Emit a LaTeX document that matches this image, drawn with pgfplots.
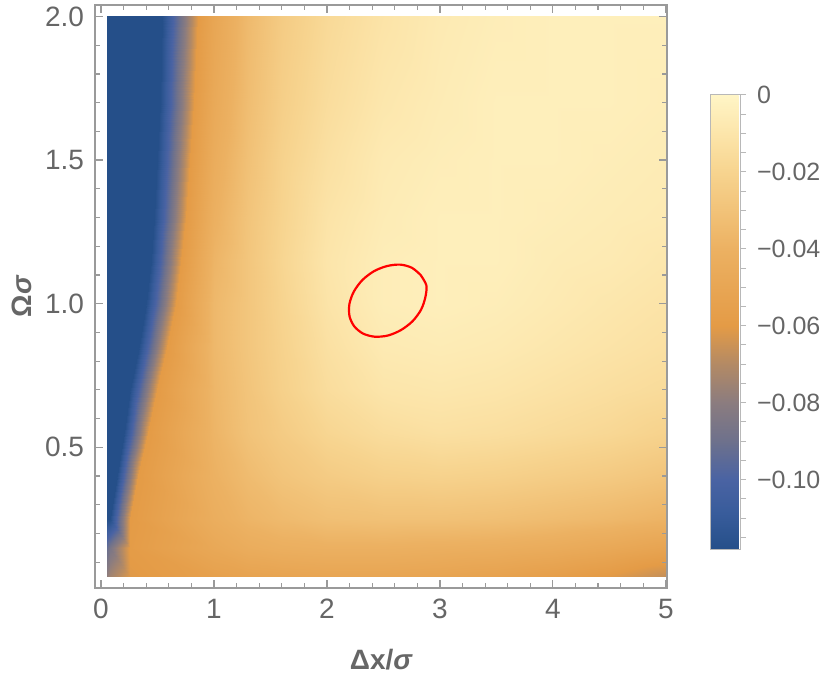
\documentclass[border=0pt]{standalone}
\usepackage{fontspec}
\setmainfont{Liberation Sans}
\usepackage{pgfplots}
\pgfplotsset{compat=1.18}

\definecolor{framegray}{HTML}{9A9A9A}
\definecolor{labelgray}{HTML}{666666}

\begin{document}
\begin{tikzpicture}
\path[use as bounding box] (-47.5pt,-47.5pt) rectangle (367.5pt,294pt);
\begin{axis}[
    at={(0,0)}, anchor=south west,
    scale only axis,
    width=286pt, height=291.5pt,
    xmin=-0.053, xmax=5.01,
    ymin=0.01, ymax=2.04,
    axis on top,
    axis line style={framegray, line width=0.6pt},
    tick style={framegray, line width=0.6pt},
    tick align=inside,
    major tick length=4pt,
    minor tick length=2.5pt,
    xtick={0,1,2,3,4,5},
    xticklabels={0,1,2,3,4,5},
    minor xtick={0.2,0.4,0.6,0.8,1.2,1.4,1.6,1.8,2.2,2.4,2.6,2.8,3.2,3.4,3.6,3.8,4.2,4.4,4.6,4.8},
    ytick={0.5,1,1.5,2},
    yticklabels={0.5,1.0,1.5,2.0},
    minor ytick={0.1,0.2,0.3,0.4,0.6,0.7,0.8,0.9,1.1,1.2,1.3,1.4,1.6,1.7,1.8,1.9},
    /pgf/number format/assume math mode=true,
    tick label style={font=\fontsize{14}{16}\selectfont, text=labelgray},
    xticklabel style={yshift=-2pt},
    yticklabel style={xshift=-2pt},
    xlabel={\bfseries Δx/{\itshape σ}},
    ylabel={\bfseries Ω{\itshape σ}},
    label style={font=\fontsize{14}{16}\selectfont, text=labelgray},
    xlabel style={at={(axis description cs:0.5,-0.1235)}, anchor=center},
    ylabel style={at={(axis description cs:-0.128,0.5)}, anchor=center},
    colormap={m10}{rgb255(0)=(37,79,137) rgb255(80)=(56,92,155) rgb255(155)=(74,99,163)
        rgb255(240)=(110,113,140) rgb255(324)=(139,124,127) rgb255(410)=(180,138,100)
        rgb255(493)=(228,155,70) rgb255(662)=(236,177,98) rgb255(831)=(247,212,143)
        rgb255(915)=(252,229,170) rgb255(1000)=(255,245,198)},
    point meta min=-0.1183, point meta max=0,
    colorbar,
    colorbar style={
        at={(parent axis.north east)}, anchor=north west,
        xshift=13pt, yshift=-45pt,
        scale only axis,
        width=15pt, height=227.5pt,
        axis line style={draw=framegray!70, line width=0.5pt},
        ytick={-0.1,-0.08,-0.06,-0.04,-0.02,0},
        yticklabels={−0.10,−0.08,−0.06,−0.04,−0.02,0},
        minor ytick={-0.115,-0.11,-0.105,-0.095,-0.09,-0.085,-0.075,-0.07,-0.065,-0.055,-0.05,-0.045,-0.035,-0.03,-0.025,-0.015,-0.01,-0.005},
        ytick pos=right,
        yticklabel pos=right,
        tick align=outside,
        major tick length=3pt,
        minor tick length=3pt,
        tick style={framegray!70, line width=0.5pt},
        yticklabel style={font=\fontsize{12.5}{15}\selectfont, text=labelgray, xshift=2pt},
    },
]
% density values, rows of constant y; 2nd/3rd columns follow the blue edge
\addplot[surf, shader=interp, mesh/cols=13, mesh/ordering=x varies, point meta=explicit]
table[x=x, y=y, meta=v] {
x y v
0.05 0.05 -0.078
0.08 0.05 -0.074
0.26 0.05 -0.061
1.0 0.05 -0.055
1.3 0.05 -0.053
1.6 0.05 -0.052
2.0 0.05 -0.051
2.5 0.05 -0.051
3.0 0.05 -0.052
3.5 0.05 -0.054
4.0 0.05 -0.057
4.5 0.05 -0.061
5.0 0.05 -0.067
0.05 0.15 -0.092
0.08 0.15 -0.086
0.26 0.15 -0.059
1.0 0.15 -0.048
1.3 0.15 -0.044
1.6 0.15 -0.042
2.0 0.15 -0.041
2.5 0.15 -0.041
3.0 0.15 -0.042
3.5 0.15 -0.043
4.0 0.15 -0.045
4.5 0.15 -0.048
5.0 0.15 -0.052
0.05 0.25 -0.1183
0.08 0.25 -0.1183
0.26 0.25 -0.060
1.0 0.25 -0.043
1.3 0.25 -0.038
1.6 0.25 -0.035
2.0 0.25 -0.032
2.5 0.25 -0.031
3.0 0.25 -0.031
3.5 0.25 -0.032
4.0 0.25 -0.034
4.5 0.25 -0.036
5.0 0.25 -0.039
0.05 0.40 -0.1183
0.14 0.40 -0.1183
0.33 0.40 -0.060
1.0 0.40 -0.040
1.3 0.40 -0.034
1.6 0.40 -0.029
2.0 0.40 -0.025
2.5 0.40 -0.022
3.0 0.40 -0.021
3.5 0.40 -0.022
4.0 0.40 -0.024
4.5 0.40 -0.026
5.0 0.40 -0.029
0.05 0.55 -0.1183
0.20 0.55 -0.1183
0.42 0.55 -0.060
1.0 0.55 -0.038
1.3 0.55 -0.030
1.6 0.55 -0.025
2.0 0.55 -0.019
2.5 0.55 -0.015
3.0 0.55 -0.013
3.5 0.55 -0.014
4.0 0.55 -0.016
4.5 0.55 -0.018
5.0 0.55 -0.021
0.05 0.70 -0.1183
0.26 0.70 -0.1183
0.50 0.70 -0.060
1.0 0.70 -0.037
1.3 0.70 -0.029
1.6 0.70 -0.022
2.0 0.70 -0.015
2.5 0.70 -0.010
3.0 0.70 -0.009
3.5 0.70 -0.010
4.0 0.70 -0.012
4.5 0.70 -0.014
5.0 0.70 -0.016
0.05 0.85 -0.1183
0.34 0.85 -0.1183
0.58 0.85 -0.060
1.0 0.85 -0.036
1.3 0.85 -0.028
1.6 0.85 -0.021
2.0 0.85 -0.013
2.5 0.85 -0.007
3.0 0.85 -0.006
3.5 0.85 -0.007
4.0 0.85 -0.009
4.5 0.85 -0.011
5.0 0.85 -0.013
0.05 1.00 -0.1183
0.40 1.00 -0.1183
0.66 1.00 -0.060
1.0 1.00 -0.036
1.3 1.00 -0.028
1.6 1.00 -0.020
2.0 1.00 -0.011
2.5 1.00 -0.005
3.0 1.00 -0.004
3.5 1.00 -0.005
4.0 1.00 -0.007
4.5 1.00 -0.009
5.0 1.00 -0.011
0.05 1.15 -0.1183
0.44 1.15 -0.1183
0.71 1.15 -0.060
1.0 1.15 -0.038
1.3 1.15 -0.028
1.6 1.15 -0.019
2.0 1.15 -0.010
2.5 1.15 -0.005
3.0 1.15 -0.004
3.5 1.15 -0.004
4.0 1.15 -0.006
4.5 1.15 -0.007
5.0 1.15 -0.009
0.05 1.30 -0.1183
0.47 1.30 -0.1183
0.75 1.30 -0.060
1.0 1.30 -0.041
1.3 1.30 -0.029
1.6 1.30 -0.020
2.0 1.30 -0.011
2.5 1.30 -0.006
3.0 1.30 -0.004
3.5 1.30 -0.004
4.0 1.30 -0.005
4.5 1.30 -0.006
5.0 1.30 -0.007
0.05 1.50 -0.1183
0.50 1.50 -0.1183
0.79 1.50 -0.060
1.0 1.50 -0.044
1.3 1.50 -0.031
1.6 1.50 -0.021
2.0 1.50 -0.013
2.5 1.50 -0.007
3.0 1.50 -0.005
3.5 1.50 -0.004
4.0 1.50 -0.004
4.5 1.50 -0.005
5.0 1.50 -0.006
0.05 1.70 -0.1183
0.52 1.70 -0.1183
0.82 1.70 -0.060
1.0 1.70 -0.047
1.3 1.70 -0.033
1.6 1.70 -0.023
2.0 1.70 -0.015
2.5 1.70 -0.009
3.0 1.70 -0.006
3.5 1.70 -0.004
4.0 1.70 -0.004
4.5 1.70 -0.004
5.0 1.70 -0.005
0.05 2.00 -0.1183
0.54 2.00 -0.1183
0.86 2.00 -0.060
1.0 2.00 -0.050
1.3 2.00 -0.035
1.6 2.00 -0.025
2.0 2.00 -0.017
2.5 2.00 -0.011
3.0 2.00 -0.007
3.5 2.00 -0.005
4.0 2.00 -0.004
4.5 2.00 -0.004
5.0 2.00 -0.004
};

% red contour
\addplot[red, line width=1.1pt, smooth] coordinates {
    (2.829,1.100) (2.880,1.064) (2.871,1.022) (2.833,0.979) (2.758,0.939)
    (2.655,0.908) (2.539,0.889) (2.422,0.885) (2.319,0.896) (2.242,0.921)
    (2.200,0.956) (2.199,0.999) (2.238,1.042) (2.313,1.082) (2.416,1.113)
    (2.532,1.131) (2.649,1.136) (2.752,1.125) (2.829,1.100)
};
\end{axis}
\end{tikzpicture}
\end{document}
